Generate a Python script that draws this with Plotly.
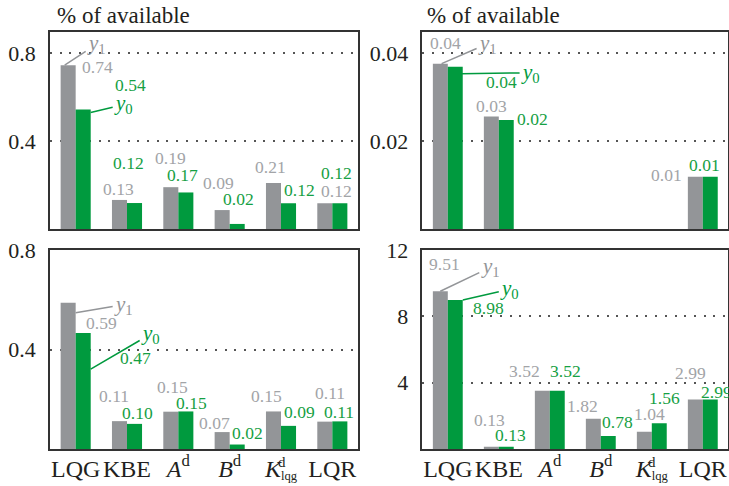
import plotly.graph_objects as go

# ---------------- data ----------------
categories = ["LQG", "KBE", "Ad", "Bd", "Kd", "LQR"]
tick_labels = ["LQG", "KBE", "<i>A</i><sup>d</sup>", "<i>B</i><sup>d</sup>",
               "<i>K</i><span style='font-size:18px'><sub>lqg</sub></span>", "LQR"]

tl_y1 = [0.744, 0.132, 0.190, 0.086, 0.209, 0.117]
tl_y0 = [0.543, 0.118, 0.166, 0.023, 0.117, 0.117]

tr_y1 = [0.0376, 0.0256, None, None, None, 0.0119]
tr_y0 = [0.0369, 0.0248, None, None, None, 0.0119]

bl_y1 = [0.588, 0.112, 0.150, 0.068, 0.151, 0.110]
bl_y0 = [0.466, 0.101, 0.151, 0.018, 0.093, 0.111]

br_y1 = [9.51, 0.13, 3.52, 1.82, 1.04, 2.99]
br_y0 = [8.98, 0.13, 3.52, 0.78, 1.56, 2.99]

y_title = "% of available"

# ---------------- styling ----------------
GRAY = "#939598"
GREEN = "#009a3e"
GRAY_TXT = "#a2a4a7"
GREEN_TXT = "#16a043"
DARK = "#231f20"
FONT = "Liberation Serif, Times New Roman, serif"
BAR_HALF = 7.5  # px, half bar width

# label offsets (px, relative to bar centre / top; +dy = downward)
offsets = {
    "tl": dict(g=[(29.5, 2), (-1.5, -11), (0, -29), (-3.5, -27), (-3.5, -16), (12, -12)],
               n=[(47, -24), (-6.5, -40), (-3, -17), (1.5, -25), (10.5, -13), (-3, -30)]),
    "tr": dict(g=[(5.6, -20.7), (0, -10), None, None, None, (-29, -2)],
               n=[(46, 15), (26.5, -0.7), None, None, None, (-6, -12)]),
    "bl": dict(g=[(33, 20), (-6, -25), (1.5, -25), (-7.5, -9), (-7, -15), (5, -28.5)],
               n=[(52.5, 24.5), (2.6, -11), (5.7, -8), (10, -11.6), (10.5, -13.5), (-1, -9)]),
    "br": dict(g=[(4.6, -27.7), (-2, -27), (-17.8, -19.5), (-10.7, -13.3), (4.8, -17.7), (-4.4, -26)],
               n=[(33.4, 7.6), (4.6, -12), (7.7, -19.5), (8.8, -14.3), (4.8, -25), (6, -7.5)]),
}
# callouts: (anchor dx, anchor dy, ax, ay)
callouts = {
    "tl": dict(g=(-3.5, 0, 32, -21), n=(7.5, 3, 33, -8)),
    "tr": dict(g=(1.3, 0, 46, -20), n=(6.3, 7, 69, -1)),
    "bl": dict(g=(7.5, 10, 48, -8), n=(7.5, 36, 60, -35)),
    "br": dict(g=(0, 0, 50, -24), n=(7.5, 0, 47, -11)),
}

panels = [
    ("tl", "x", "y", tl_y1, tl_y0, [0, 0.895], [0.4, 0.8], ["0.4", "0.8"], False),
    ("tr", "x2", "y2", tr_y1, tr_y0, [0, 0.0448], [0.02, 0.04], ["0.02", "0.04"], False),
    ("bl", "x3", "y3", bl_y1, bl_y0, [0, 0.8], [0.4, 0.8], ["0.4", "0.8"], True),
    ("br", "x4", "y4", br_y1, br_y0, [0, 12], [4, 8, 12], ["4", "8", "12"], True),
]

xdom_l = [50 / 729, 358 / 729]
xdom_r = [422.3 / 729, 728.3 / 729]
ydom_t = [1 - 229 / 486, 1 - 32 / 486]
ydom_b = [1 - 449 / 486, 1 - 250 / 486]
domains = {"tl": (xdom_l, ydom_t), "tr": (xdom_r, ydom_t),
           "bl": (xdom_l, ydom_b), "br": (xdom_r, ydom_b)}

fig = go.Figure()
annotations = []
layout = {}

for key, xa, ya, v1, v0, yr, tv, tt, show_x in panels:
    fig.add_trace(go.Bar(x=categories, y=v1, marker_color=GRAY, marker_line_width=0,
                         xaxis=xa, yaxis=ya, showlegend=False, hoverinfo="skip"))
    fig.add_trace(go.Bar(x=categories, y=v0, marker_color=GREEN, marker_line_width=0,
                         xaxis=xa, yaxis=ya, showlegend=False, hoverinfo="skip"))
    # value labels
    for series, vals, sign, col in (("g", v1, -1, GRAY_TXT), ("n", v0, 1, GREEN_TXT)):
        for i, v in enumerate(vals):
            if v is None:
                continue
            dx, dy = offsets[key][series][i]
            annotations.append(dict(
                x=categories[i], y=v, xref=xa, yref=ya, text=f"{v:.2f}",
                showarrow=False, xanchor="center", yanchor="middle",
                xshift=sign * BAR_HALF + dx, yshift=-dy,
                font=dict(family=FONT, size=17.5, color=col)))
    # callouts y1 / y0
    for series, vals, sign, col, lab in (("g", v1, -1, GRAY, "<i>y</i><sub>1</sub>"),
                                        ("n", v0, 1, GREEN, "<i>y</i><sub>0</sub>")):
        adx, ady, ax, ay = callouts[key][series]
        annotations.append(dict(
            x=categories[0], y=vals[0], xref=xa, yref=ya, text=lab,
            showarrow=True, arrowhead=0, arrowwidth=1.5, arrowcolor=col,
            ax=ax, ay=ay, standoff=0, xshift=sign * BAR_HALF + adx, yshift=-ady,
            font=dict(family=FONT, size=21, color=col)))
    # K superscript d
    if show_x:
        annotations.append(dict(
            x="Kd", y=0, xref=xa, yref=ya, text="d", showarrow=False,
            xanchor="center", yanchor="middle", xshift=0.5, yshift=-13,
            font=dict(family=FONT, size=15, color=DARK)))

    xd, yd = domains[key]
    xname = "xaxis" + xa[1:]
    yname = "yaxis" + ya[1:]
    layout[xname] = dict(domain=xd, anchor=ya, type="category", range=[-0.5, 5.5],
                         categoryorder="array", categoryarray=categories,
                         tickmode="array", tickvals=categories, ticktext=tick_labels,
                         showticklabels=show_x, ticks="", showgrid=False, tickangle=0,
                         showline=True, mirror=True, linecolor="#333333", linewidth=1.5,
                         tickfont=dict(family=FONT, size=24, color=DARK),
                         ticklabelstandoff=-3, automargin=False, fixedrange=True)
    layout[yname] = dict(domain=yd, anchor=xa, range=yr, tickmode="array",
                         tickvals=tv, ticktext=tt, ticks="", showgrid=True,
                         gridcolor="#555555", gridwidth=2, griddash="2px,7.7px",
                         zeroline=False, showline=True, mirror=True,
                         linecolor="#333333", linewidth=1.5,
                         tickfont=dict(family=FONT, size=22, color=DARK),
                         ticklabelstandoff=8, automargin=False, fixedrange=True)

for xpos in (55 / 729, 425 / 729):
    annotations.append(dict(x=xpos, y=1 - 16 / 486, xref="paper", yref="paper",
                            text=y_title, showarrow=False, xanchor="left", yanchor="middle",
                            font=dict(family=FONT, size=23, color=DARK)))

fig.update_layout(
    template="none",
    width=729, height=486, margin=dict(l=0, r=0, t=0, b=0, autoexpand=False),
    paper_bgcolor="white", plot_bgcolor="white",
    font=dict(family=FONT, color=DARK),
    barmode="group", bargap=0.414, bargroupgap=0,
    annotations=annotations, **layout)

fig.write_html("out.html", config={"displayModeBar": False},
               post_script="document.body.style.margin='0';document.body.style.overflow='hidden';")
